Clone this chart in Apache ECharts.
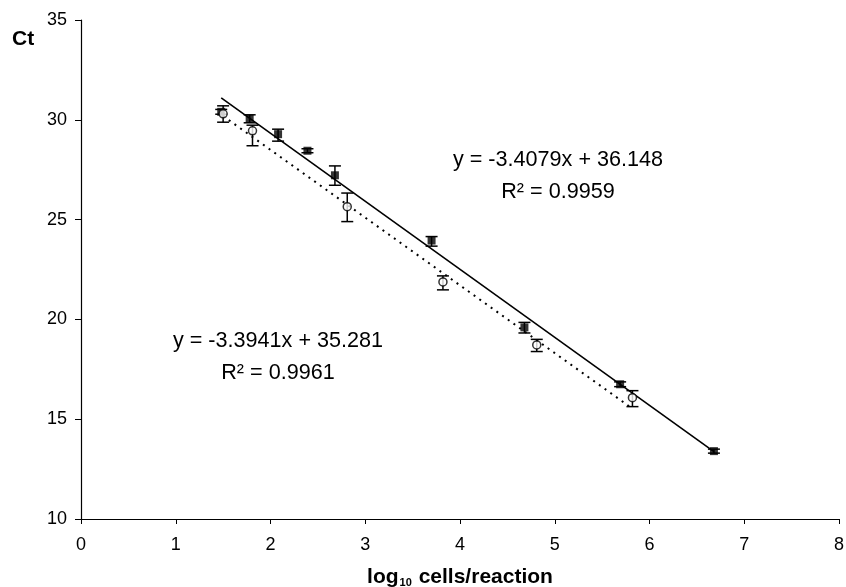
<!DOCTYPE html>
<html>
<head>
<meta charset="utf-8">
<script src="https://cdn.jsdelivr.net/npm/echarts@6/dist/echarts.min.js"></script>
<style>
html,body{margin:0;padding:0;background:#fff;overflow:hidden;}
#chart{width:846px;height:587px;}
</style>
</head>
<body>
<div id="chart"></div>
<script>
// Filled squares (series A)
const sqX = [1.48, 1.78, 2.08, 2.39, 2.68, 3.70, 4.68, 5.69, 6.68];
const sqY = [30.4, 30.05, 29.28, 28.45, 27.22, 23.95, 19.6, 16.75, 13.4];
const sqErrUp = [0.12, 0.2, 0.25, 0.1, 0.47, 0.2, 0.25, 0.12, 0.1];
const sqErrDown = [0.12, 0.2, 0.35, 0.1, 0.5, 0.28, 0.28, 0.12, 0.1];
// Open circles (series B)
const ciX = [1.5, 1.81, 2.81, 3.82, 4.81, 5.82];
const ciY = [30.3, 29.45, 25.65, 21.88, 18.72, 16.08];
const ciErrUp = [0.4, 0.28, 0.68, 0.3, 0.28, 0.35];
const ciErrDown = [0.42, 0.75, 0.75, 0.4, 0.33, 0.45];
// Trend lines (end points)
const fitA = [[1.48, 31.1], [6.68, 13.38]];
const fitB = [[1.5, 30.19], [5.82, 15.53]];
// Axis ticks
const xTicks = [0, 1, 2, 3, 4, 5, 6, 7, 8];
const yTicks = [10, 15, 20, 25, 30, 35];
// Annotations
const eqA = ['y = -3.4079x + 36.148', 'R² = 0.9959'];
const eqB = ['y = -3.3941x + 35.281', 'R² = 0.9961'];

const FONT = '"Liberation Sans", Arial, Helvetica, sans-serif';

function errData(xs, ys, up, down) {
  return xs.map((x, i) => [x, ys[i], ys[i] - down[i], ys[i] + up[i]]);
}
function errRender(params, api) {
  const x = api.value(0), lo = api.value(2), hi = api.value(3);
  const p1 = api.coord([x, hi]);
  const p2 = api.coord([x, lo]);
  const w = 6;
  const st = { stroke: '#000', lineWidth: 1.5 };
  return {
    type: 'group',
    children: [
      { type: 'line', shape: { x1: p1[0], y1: p1[1], x2: p2[0], y2: p2[1] }, style: st },
      { type: 'line', shape: { x1: p1[0] - w, y1: p1[1], x2: p1[0] + w, y2: p1[1] }, style: st },
      { type: 'line', shape: { x1: p2[0] - w, y1: p2[1], x2: p2[0] + w, y2: p2[1] }, style: st }
    ]
  };
}

const chart = echarts.init(document.getElementById('chart'));
chart.setOption({
  animation: false,
  backgroundColor: '#fff',
  grid: { left: 81, right: 7, top: 20, bottom: 68, containLabel: false, outerBoundsMode: 'none' },
  xAxis: {
    type: 'value', min: xTicks[0], max: xTicks[xTicks.length - 1], interval: 1,
    axisLine: { show: true, lineStyle: { color: '#000', width: 1.2 } },
    axisTick: { show: true, inside: false, length: 5, lineStyle: { color: '#000' } },
    splitLine: { show: false },
    axisLabel: { color: '#000', fontSize: 18, fontFamily: FONT, margin: 17 },
    name: '{a|log}{b|10}{a| cells/reaction}',
    nameLocation: 'middle', nameGap: 48,
    nameTextStyle: {
      rich: {
        a: { fontSize: 21, fontWeight: 'bold', fontFamily: FONT, color: '#000' },
        b: { fontSize: 11, fontWeight: 'bold', fontFamily: FONT, color: '#000', verticalAlign: 'bottom', padding: [0, 1, 0, 1] }
      }
    }
  },
  yAxis: {
    type: 'value', min: yTicks[0], max: yTicks[yTicks.length - 1], interval: 5,
    axisLine: { show: true, lineStyle: { color: '#000', width: 1.2 } },
    axisTick: { show: true, inside: false, length: 6, lineStyle: { color: '#000' } },
    splitLine: { show: false },
    axisLabel: { color: '#000', fontSize: 18, fontFamily: FONT, margin: 14 }
  },
  graphic: [
    { type: 'text', left: 12, top: 29, style: { text: 'Ct', font: 'bold 21px ' + FONT, fill: '#000' } },
    { type: 'text', x: 558, y: 160, style: { text: eqA[0], font: '21.6px ' + FONT, fill: '#000', align: 'center', verticalAlign: 'middle' } },
    { type: 'text', x: 558, y: 192, style: { text: eqA[1], font: '21.6px ' + FONT, fill: '#000', align: 'center', verticalAlign: 'middle' } },
    { type: 'text', x: 278, y: 341, style: { text: eqB[0], font: '21.6px ' + FONT, fill: '#000', align: 'center', verticalAlign: 'middle' } },
    { type: 'text', x: 278, y: 373, style: { text: eqB[1], font: '21.6px ' + FONT, fill: '#000', align: 'center', verticalAlign: 'middle' } }
  ],
  series: [
    { type: 'line', data: fitA, showSymbol: false, symbol: 'none', lineStyle: { color: '#000', width: 1.6 }, z: 2, silent: true },
    { type: 'line', data: fitB, showSymbol: false, symbol: 'none', lineStyle: { color: '#000', width: 2, type: [2, 5] }, z: 2, silent: true },
    { type: 'custom', data: errData(sqX, sqY, sqErrUp, sqErrDown), renderItem: errRender, z: 3, encode: { x: 0, y: [1, 2, 3] } },
    { type: 'custom', data: errData(ciX, ciY, ciErrUp, ciErrDown), renderItem: errRender, z: 3, encode: { x: 0, y: [1, 2, 3] } },
    { type: 'scatter', data: sqX.map((x, i) => [x, sqY[i]]), symbol: 'rect', symbolSize: 8, itemStyle: { color: '#000' }, z: 4 },
    { type: 'scatter', data: ciX.map((x, i) => [x, ciY[i]]), symbol: 'circle', symbolSize: 8, itemStyle: { color: '#fff', borderColor: '#000', borderWidth: 1.5 }, z: 5 }
  ]
});
</script>
</body>
</html>
